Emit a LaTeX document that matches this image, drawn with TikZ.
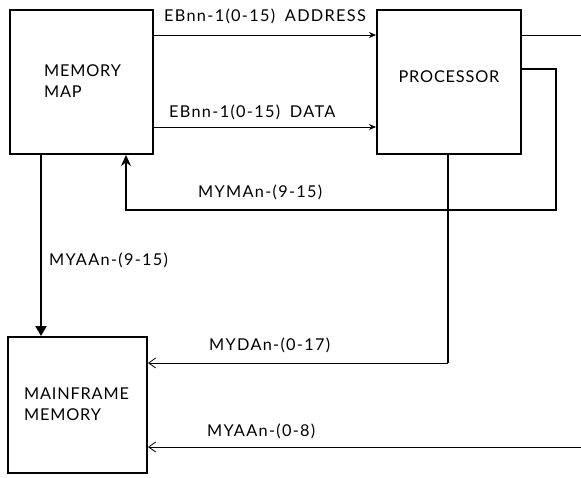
\documentclass[tikz,border=0pt]{standalone}
\usepackage{fontspec}
\setmainfont{Lato}
\usetikzlibrary{arrows.meta,calc}
\begin{document}
\begin{tikzpicture}[x=1pt,y=-1pt,
  thickline/.style={line width=2.2pt},
  thinline/.style={line width=0.8pt},
  lbl/.style={font=\fontsize{16.3}{19}\selectfont\addfontfeature{LetterSpace=8},inner sep=0pt,anchor=west},
  boxtxt/.style={font=\fontsize{16.3}{21.5}\selectfont\addfontfeature{LetterSpace=5},inner sep=0pt,align=left}]
\useasboundingbox (0,0) rectangle (581,477);
% blocks
\draw[line width=1.6pt] (10,10) rectangle (153,154);
\draw[line width=1.6pt] (377,10) rectangle (521,154);
\draw[line width=1.6pt] (8,337) rectangle (147,473);
\node[boxtxt,anchor=west] (mmtxt) at (44,81) {MEMORY\\MAP};
\node[boxtxt,anchor=center] (proctxt) at (449,77) {PROCESSOR};
\node[boxtxt,anchor=west] (mftxt) at (24,404) {MAINFRAME\\MEMORY};
% anchors on boxes
\coordinate (mmAddr) at (154,35);
\coordinate (mmData) at (154,127);
\coordinate (prAddr) at (376,35);
\coordinate (prData) at (376,127);
\coordinate (prAddrR) at (522,35);
\coordinate (addrEnd) at (581,35);
\coordinate (prMyma) at (522,69);
\coordinate (mymaC1) at (556,69);
\coordinate (mymaC2) at (556,210);
\coordinate (mymaC3) at (126,210);
\coordinate (mmBot) at (126,155);
\coordinate (mmBotL) at (41,155);
\coordinate (mfTop) at (41,336);
\coordinate (prBot) at (448,155);
\coordinate (mydaC) at (448,363);
\coordinate (mfData) at (148,363);
\coordinate (myaaEnd) at (581,447);
\coordinate (mfAddr) at (148,447);
% connectors
\draw[thinline,-{Stealth[length=7pt,width=6pt]}] (mmAddr) -- (prAddr);
\draw[thinline] (prAddrR) -- (addrEnd);
\draw[thinline,-{Stealth[length=7pt,width=6pt]}] (mmData) -- (prData);
\draw[thickline,-{Stealth[length=11pt,width=10pt,open]}] (prMyma) -- (mymaC1) -- (mymaC2) -- (mymaC3) -- (mmBot);
\draw[thickline,-{Triangle[length=10pt,width=11pt]}] (mmBotL) -- (mfTop);
\draw[thickline] (prBot) -- (mydaC);
\draw[thinline,-{Straight Barb[length=7pt,width=10pt]}] (mydaC) -- (mfData);
\draw[thinline,-{Straight Barb[length=7pt,width=10pt]}] (myaaEnd) -- (mfAddr);
% labels
\node[lbl] (lAddr) at (164,16) {EBnn-1(0-15)\hspace{0.6em}ADDRESS};
\node[lbl] (lData) at (169,112) {EBnn-1(0-15)\hspace{0.6em}DATA};
\node[lbl] (lMyma) at (198,192) {MYMAn-(9-15)};
\node[lbl] (lMyaa) at (49,260) {MYAAn-(9-15)};
\node[lbl] (lMyda) at (209,345) {MYDAn-(0-17)};
\node[lbl] (lMyaa2) at (207,431) {MYAAn-(0-8)};
\end{tikzpicture}
\end{document}
